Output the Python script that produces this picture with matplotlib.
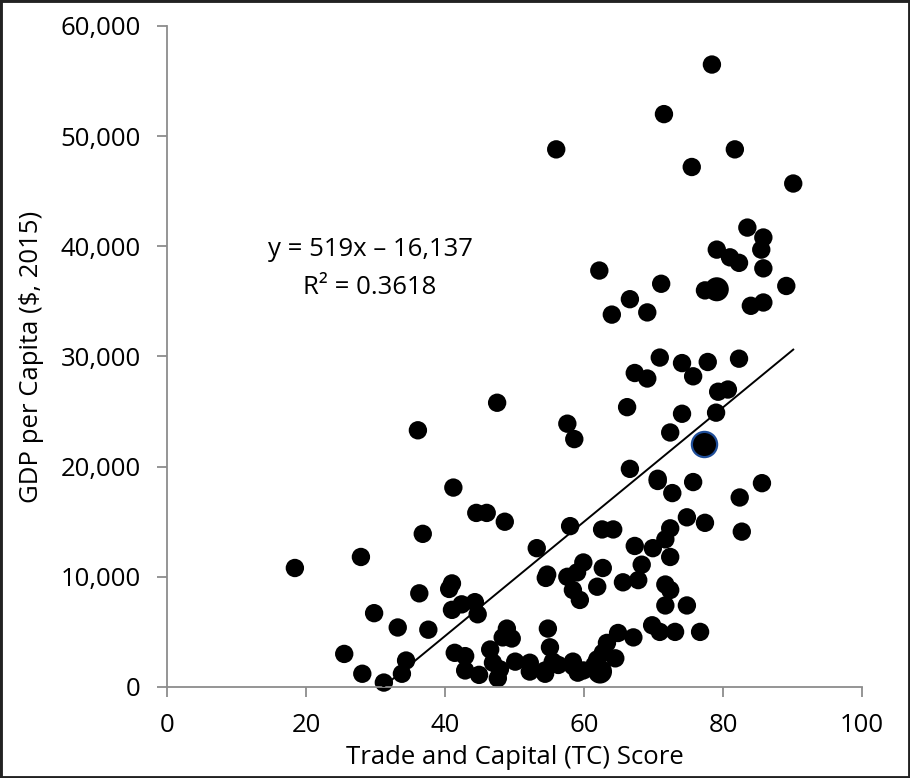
# GDP per capita vs Trade and Capital score, with linear trendline

import matplotlib
matplotlib.use('Agg')
import matplotlib.pyplot as plt
from matplotlib.patches import Rectangle
from matplotlib.ticker import FuncFormatter
import numpy as np

# TC score and GDP per capita ($, 2015)
tc_score = [
    18.4, 27.9, 25.5, 28.1, 31.2, 29.8, 33.2, 34.4, 33.8, 36.1, 36.8, 36.3, 37.6, 41.2,
    40.6, 41.0, 41.0, 42.4, 44.3, 44.7, 44.5, 46.0, 48.6, 47.5,
    41.4, 42.9, 42.9, 44.9, 46.5, 47.6, 48.3, 48.9,
    46.9, 47.9, 50.1, 52.2, 52.2, 54.4, 54.8, 55.1, 55.5, 56.3, 58.4, 59.9, 49.6, 54.4, 59.1,
    58.0, 53.2, 54.7, 54.5, 57.6, 58.4, 59.4, 59.9, 59.0, 61.9, 62.7, 62.6, 64.2,
    65.6, 67.8, 67.3, 68.3, 69.9, 71.7, 72.4, 72.4, 71.7, 72.4, 71.7, 74.8,
    69.8, 70.9, 73.1, 76.7, 74.8, 77.4, 82.4, 82.7, 70.6, 75.7, 72.7, 85.6,
    61.9, 63.3, 64.5, 64.9, 67.1, 62.7, 58.4, 61.5,
    78.4, 71.5, 56.0, 81.7, 75.5, 90.1, 83.5, 85.8, 85.5, 79.1, 81.0, 82.3, 85.8,
    62.2, 71.1, 77.4, 89.1, 66.6, 69.1, 64.0, 84.0, 85.8,
    70.9, 74.1, 77.8, 82.3, 67.3, 69.1, 75.7, 79.3, 80.7, 66.2, 74.1, 79.0,
    57.6, 58.6, 72.4, 66.6, 70.6,
]
gdp_pc = [
    10800, 11800, 3000, 1200, 400, 6700, 5400, 2400, 1200, 23300, 13900, 8500, 5200, 18100,
    8900, 9400, 7000, 7500, 7700, 6600, 15800, 15800, 15000, 25800,
    3100, 2800, 1500, 1100, 3400, 800, 4500, 5300,
    2200, 1600, 2300, 2200, 1400, 1500, 5300, 3600, 2300, 2000, 1900, 1500, 4400, 1200, 1300,
    14600, 12600, 10200, 9900, 10000, 8800, 7900, 11300, 10400, 9100, 10800, 14300, 14300,
    9500, 9700, 12800, 11100, 12600, 13400, 14400, 11800, 9300, 8800, 7400, 7400,
    5600, 5000, 5000, 5000, 15400, 14900, 17200, 14100, 18700, 18600, 17600, 18500,
    2500, 4000, 2600, 4900, 4500, 3100, 2300, 2000,
    56500, 52000, 48800, 48800, 47200, 45700, 41700, 40800, 39700, 39700, 39000, 38500, 38000,
    37800, 36600, 36000, 36400, 35200, 34000, 33800, 34600, 34900,
    29900, 29400, 29500, 29800, 28500, 28000, 28200, 26800, 27000, 25400, 24800, 24900,
    23900, 22500, 23100, 19800, 18900,
]

# points drawn with a bigger marker
big_tc = [79.1, 62.3]
big_gdp = [36100, 1400]

# highlighted country
hi_tc = [77.3]
hi_gdp = [22100]

# trendline from the chart label
slope = 519
intercept = -16137
r_squared = 0.3618

plt.rcParams['font.family'] = ['Open Sans', 'DejaVu Sans']
fs = 18.5

fig = plt.figure(figsize=(9.1, 7.78), dpi=100)
ax = fig.add_axes([0.1835, 0.117, 0.7638, 0.8496])

# trendline over the range of the data
x_line = np.array([min(tc_score), max(tc_score)])
ax.plot(x_line, slope * x_line + intercept, color='black', lw=1.4, zorder=3)

ax.scatter(tc_score, gdp_pc, s=175, color='black', edgecolors='none', zorder=2, clip_on=False)
ax.scatter(big_tc, big_gdp, s=300, color='black', edgecolors='none', zorder=2, clip_on=False)
ax.scatter(hi_tc, hi_gdp, s=330, color='black', edgecolors='#1F4E99', linewidths=1.6,
           zorder=4, clip_on=False)

ax.text(29.2, 39700, 'y = 519x \u2013 16,137', ha='center', va='center', fontsize=fs)
ax.text(29.2, 36300, 'R\u00b2 = %.4f' % r_squared, ha='center', va='center', fontsize=fs)

ax.set_xlim(0, 100)
ax.set_ylim(0, 60000)
ax.set_xticks(range(0, 101, 20))
ax.set_yticks(range(0, 60001, 10000))
ax.yaxis.set_major_formatter(FuncFormatter(lambda v, p: '{:,.0f}'.format(v)))

for side in ['top', 'right']:
    ax.spines[side].set_visible(False)
for side in ['left', 'bottom']:
    ax.spines[side].set_color('#8c8c8c')
    ax.spines[side].set_linewidth(1.3)

ax.tick_params(axis='both', direction='out', length=7, width=1.3, color='#8c8c8c',
               labelsize=fs, labelcolor='black', pad=12)

ax.set_xlabel('Trade and Capital (TC) Score', fontsize=fs, labelpad=5)
ax.set_ylabel('GDP per Capita ($, 2015)', fontsize=fs, labelpad=12)

# dark frame round the whole picture
fig.patches.append(Rectangle((0, 0), 1, 1, transform=fig.transFigure, fill=False,
                             edgecolor='#222222', linewidth=3.5))

plt.savefig('out.png', dpi=100)
